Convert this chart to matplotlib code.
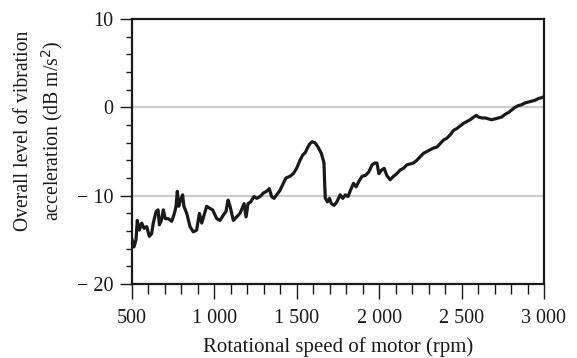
import numpy as np
import matplotlib
matplotlib.use("Agg")
from matplotlib import pyplot as plt
from matplotlib.ticker import MultipleLocator

plt.rcParams['font.family'] = ['Liberation Serif', 'DejaVu Serif']

# overall vibration level vs motor speed
speed_rpm = [500, 512, 524, 532, 544, 559, 573, 589, 605, 619, 629, 646, 658, 666, 678,
             690, 702, 720, 741, 757, 767, 775, 783, 795, 807, 815, 832, 852, 872, 892,
             909, 923, 937, 953, 969, 989, 1014, 1034, 1054, 1070, 1083, 1095, 1115, 1135,
             1155, 1180, 1192, 1204, 1220, 1240, 1257, 1277, 1297, 1317, 1333, 1347, 1362,
             1378, 1398, 1418, 1434, 1459, 1479, 1499, 1519, 1536, 1552, 1564, 1580, 1592,
             1610, 1629, 1649, 1665, 1669, 1673, 1686, 1698, 1710, 1726, 1743, 1763, 1779,
             1795, 1811, 1823, 1844, 1860, 1876, 1896, 1917, 1937, 1957, 1973, 1986, 1998,
             2014, 2030, 2046, 2066, 2087, 2107, 2127, 2147, 2168, 2188, 2208, 2228, 2248,
             2269, 2289, 2309, 2329, 2350, 2370, 2390, 2410, 2431, 2451, 2471, 2491, 2512,
             2532, 2552, 2573, 2589, 2603, 2624, 2644, 2662, 2682, 2702, 2723, 2743, 2763,
             2783, 2803, 2824, 2844, 2864, 2884, 2905, 2925, 2945, 2965, 2985, 3000]
level_db = [-15.0, -15.8, -15.0, -12.8, -13.9, -13.1, -13.7, -13.5, -14.6, -14.3, -13.1,
            -11.8, -11.6, -13.3, -12.8, -11.6, -12.6, -12.6, -12.9, -12.0, -11.2, -9.5,
            -11.2, -10.5, -9.9, -11.2, -12.0, -13.5, -14.1, -13.9, -12.0, -13.1, -12.2,
            -11.2, -11.4, -11.6, -12.6, -12.8, -12.2, -11.8, -10.5, -11.2, -12.8, -12.4,
            -12.0, -10.9, -12.4, -10.9, -10.7, -10.1, -10.3, -10.1, -9.7, -9.5, -9.2,
            -10.1, -10.3, -9.9, -9.4, -8.6, -8.0, -7.8, -7.5, -6.9, -6.0, -5.4, -5.1,
            -4.6, -4.1, -3.9, -4.0, -4.5, -5.2, -6.3, -8.6, -10.3, -10.7, -10.3, -10.9,
            -11.1, -10.7, -9.9, -10.3, -9.9, -10.1, -9.5, -8.6, -9.0, -8.4, -7.8, -7.7,
            -7.3, -6.5, -6.3, -6.3, -7.5, -7.1, -6.9, -7.7, -8.2, -7.8, -7.5, -7.1,
            -6.9, -6.5, -6.4, -6.3, -6.0, -5.6, -5.2, -5.0, -4.8, -4.6, -4.5, -4.1,
            -3.7, -3.5, -3.1, -2.6, -2.4, -2.1, -1.8, -1.6, -1.4, -1.1, -0.9, -1.1,
            -1.2, -1.2, -1.3, -1.4, -1.3, -1.2, -1.1, -0.8, -0.6, -0.3, 0.0, 0.2, 0.3,
            0.5, 0.6, 0.7, 0.8, 1.0, 1.1, 1.2]

xticks = [500, 1000, 1500, 2000, 2500, 3000]
xticklabels = ['500', '1 000', '1 500', '2 000', '2 500', '3 000']
yticks = [10, 0, -10, -20]
yticklabels = ['10', '0', '\u2212 10', '\u2212 20']

fig = plt.figure(figsize=(5.77, 3.58), dpi=100)
ax = fig.add_axes([0.2288, 0.2067, 0.714, 0.740])

for g in [0, -10]:
    ax.axhline(g, color='#cccccc', lw=1.6, zorder=1)

ax.plot(speed_rpm, level_db, color='#1a1a1a', lw=2.3, zorder=3)

ax.set_xlim(500, 3000)
ax.set_ylim(-20, 10)
ax.set_xticks(xticks, xticklabels)
ax.set_yticks(yticks, yticklabels)
ax.xaxis.set_minor_locator(MultipleLocator(100))
ax.yaxis.set_minor_locator(MultipleLocator(2))

for s in ax.spines.values():
    s.set_linewidth(1.6)
    s.set_color('#1a1a1a')

ax.tick_params(axis='x', which='major', direction='out', length=11, width=1.0,
               labelsize=14.5, pad=7, colors='#1a1a1a')
ax.tick_params(axis='x', which='minor', direction='out', length=7, width=1.0,
               colors='#1a1a1a')
ax.tick_params(axis='y', which='major', direction='out', length=8.5, width=1.0,
               labelsize=14.5, pad=5, colors='#1a1a1a')
ax.tick_params(axis='y', which='minor', direction='out', length=4.5, width=1.0,
               colors='#1a1a1a')

ax.set_xlabel('Rotational speed of motor (rpm)', fontsize=15, color='#1a1a1a')
ax.xaxis.set_label_coords(0.5, -0.2)
ax.set_ylabel('Overall level of vibration\nacceleration (dB m/s$^2$)', fontsize=14.2,
              color='#1a1a1a', linespacing=1.35)
ax.yaxis.set_label_coords(-0.162, 0.577)

fig.savefig('out.png', dpi=100)
